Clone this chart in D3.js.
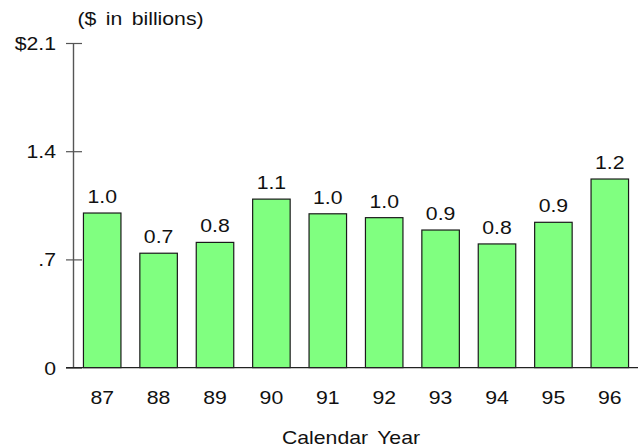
<!DOCTYPE html>
<html>
<head>
<meta charset="utf-8">
<script src="https://cdn.jsdelivr.net/npm/d3@7"></script>
<style>
  html, body { margin: 0; padding: 0; background: #fff; }
  svg { display: block; }
  text { font-family: "Liberation Sans", Arial, sans-serif; fill: #111; }
</style>
</head>
<body>
<svg id="chart" width="642" height="448"></svg>
<script>
// Annual amounts, $ in billions
const years = ["87", "88", "89", "90", "91", "92", "93", "94", "95", "96"];
const amounts = [1.00, 0.74, 0.81, 1.09, 0.995, 0.97, 0.89, 0.80, 0.94, 1.22];
const yTickValues = [0, 0.7, 1.4, 2.1];
const yTickLabels = ["0", ".7", "1.4", "$2.1"];

const W = 642, H = 448;
const stretch = 1.18;   // wide lettering
const fontSize = 18;

const svg = d3.select("#chart");

const x = d3.scaleBand()
  .domain(years)
  .range([74, 638])
  .paddingInner(0.335)
  .paddingOuter(0.1675);

const y = d3.scaleLinear()
  .domain([0, 2.1])
  .range([367.6, 43]);

// widen a text node horizontally around its anchor point
function widen(sel) {
  sel.each(function () {
    const t = d3.select(this);
    const tx = +t.attr("x") || 0;
    const ty = +t.attr("y") || 0;
    t.attr("x", 0).attr("y", 0)
     .attr("transform", `translate(${tx},${ty}) scale(${stretch},1)`);
  });
}

// Bars
svg.append("g")
  .selectAll("rect")
  .data(amounts)
  .join("rect")
  .attr("x", (d, i) => x(years[i]))
  .attr("y", d => y(d))
  .attr("width", x.bandwidth())
  .attr("height", d => y(0) - y(d))
  .attr("fill", "#80ff80")
  .attr("stroke", "#1a1a1a")
  .attr("stroke-width", 1.2);

// Value labels above bars
const fmt = d3.format(".1f");
svg.append("g")
  .selectAll("text")
  .data(amounts)
  .join("text")
  .attr("x", (d, i) => x(years[i]) + x.bandwidth() / 2)
  .attr("y", d => y(d) - 10)
  .attr("text-anchor", "middle")
  .attr("font-size", fontSize)
  .text(d => fmt(d))
  .call(widen);

// Y axis: ticks crossing the vertical line
const yAxis = svg.append("g")
  .attr("transform", "translate(82,0)")
  .call(d3.axisLeft(y)
    .tickValues(yTickValues)
    .tickSize(16)
    .tickPadding(10)
    .tickFormat((d, i) => yTickLabels[i]));
yAxis.select(".domain").remove();
yAxis.selectAll(".tick line").attr("stroke", "#555").attr("stroke-width", 1.2);
yAxis.selectAll(".tick text")
  .attr("font-size", fontSize)
  .attr("font-family", null)
  .attr("fill", "#111")
  .attr("dy", "0.36em")
  .call(widen);
yAxis.attr("font-family", null).attr("font-size", null);

svg.append("line")
  .attr("x1", 73.5).attr("x2", 73.5)
  .attr("y1", y(2.1)).attr("y2", y(0))
  .attr("stroke", "#555").attr("stroke-width", 1.4);

// X axis baseline and year labels
const xAxis = svg.append("g")
  .attr("transform", `translate(0,${y(0)})`)
  .call(d3.axisBottom(x).tickSize(0).tickPadding(24));
xAxis.select(".domain").remove();
xAxis.attr("font-family", null).attr("font-size", null);
xAxis.selectAll(".tick text")
  .attr("font-size", fontSize)
  .attr("fill", "#111")
  .attr("dy", "0.71em")
  .call(widen);

svg.append("line")
  .attr("x1", 66).attr("x2", 638)
  .attr("y1", y(0)).attr("y2", y(0))
  .attr("stroke", "#222").attr("stroke-width", 1.4);

// Titles
svg.append("text")
  .attr("x", 140.5).attr("y", 25)
  .attr("text-anchor", "middle")
  .attr("font-size", fontSize)
  .attr("word-spacing", 3)
  .text("($ in billions)")
  .call(widen);

svg.append("text")
  .attr("x", 351).attr("y", 444)
  .attr("text-anchor", "middle")
  .attr("font-size", fontSize)
  .attr("word-spacing", 3)
  .text("Calendar Year")
  .call(widen);
</script>
</body>
</html>
